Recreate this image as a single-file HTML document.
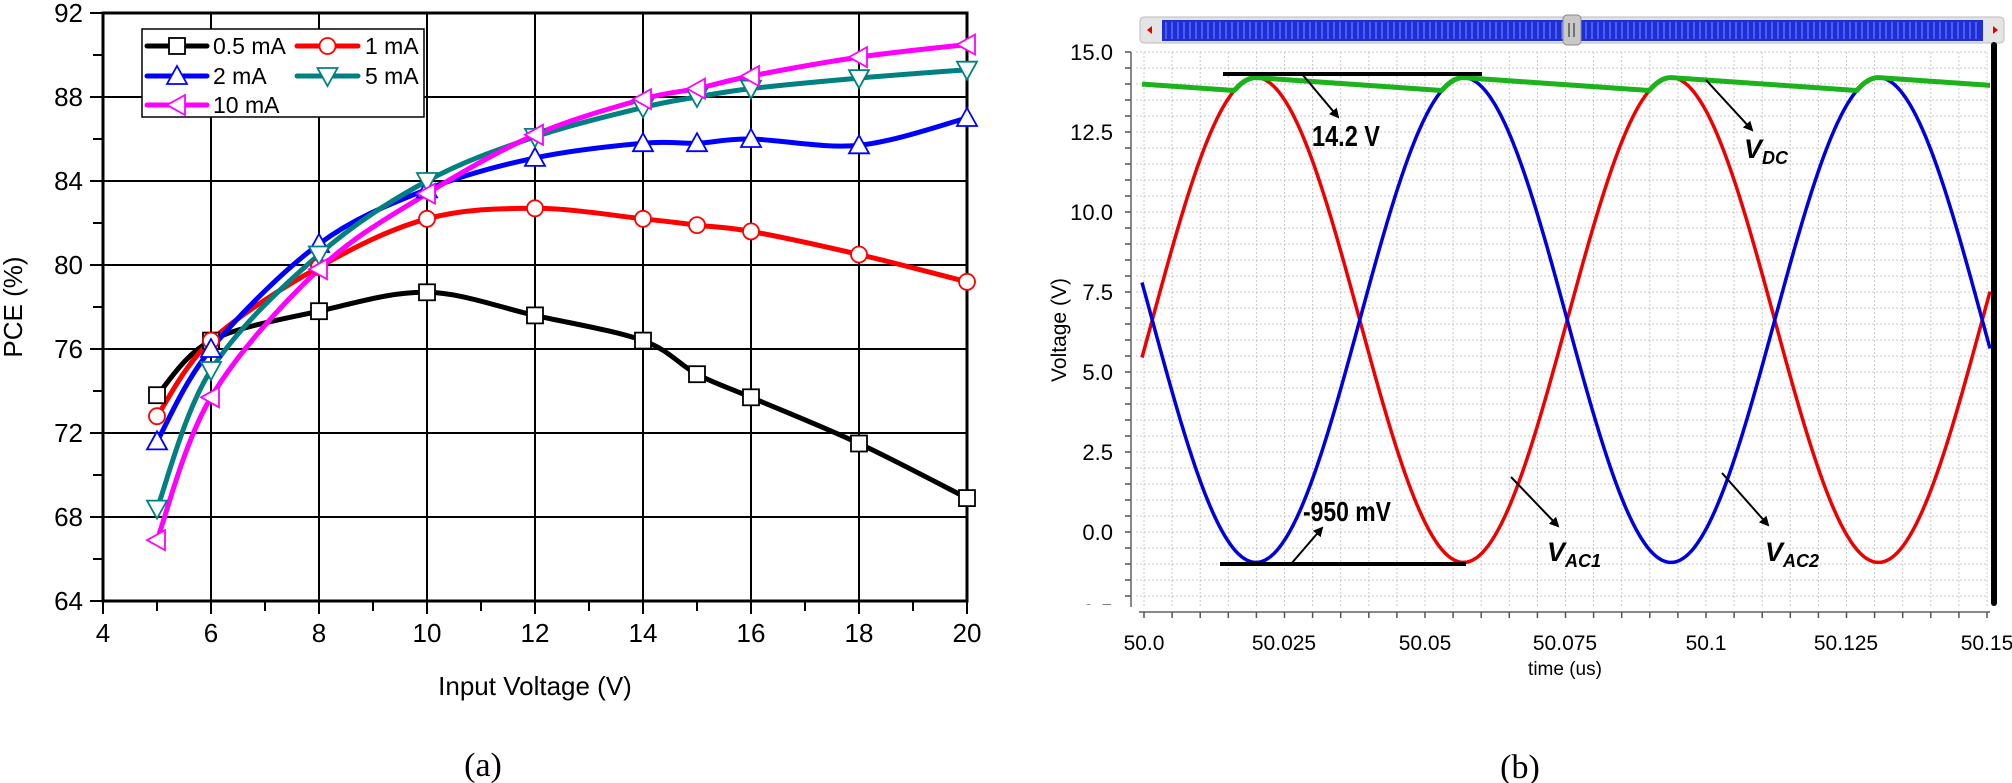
<!DOCTYPE html>
<html><head><meta charset="utf-8"><style>
html,body{margin:0;padding:0;background:#fff;}
svg{display:block;}
.t{font-family:"Liberation Sans",sans-serif;}
</style></head><body>
<svg id="s" width="2012" height="783" viewBox="0 0 2012 783" xmlns="http://www.w3.org/2000/svg">
<defs>
<marker id="ah" markerWidth="10" markerHeight="10" refX="8" refY="5" orient="auto" markerUnits="userSpaceOnUse"><path d="M0,0 L10,5 L0,10 z" fill="#000"/></marker>
</defs>
<rect width="2012" height="783" fill="#fff"/>
<!-- LEFT CHART -->
<g id="lgrid" stroke="#000" stroke-width="2"></g>
<rect x="103" y="13" width="864" height="588" fill="none" stroke="#000" stroke-width="3"/>
<g id="lseries"></g>
<g class="t" font-size="26" fill="#000" text-anchor="end">
<text x="83" y="22">92</text><text x="83" y="106">88</text><text x="83" y="190">84</text><text x="83" y="274">80</text>
<text x="83" y="358">76</text><text x="83" y="442">72</text><text x="83" y="526">68</text><text x="83" y="610">64</text>
</g>
<g class="t" font-size="26" fill="#000" text-anchor="middle">
<text x="103" y="642">4</text><text x="211" y="642">6</text><text x="319" y="642">8</text><text x="427" y="642">10</text>
<text x="535" y="642">12</text><text x="643" y="642">14</text><text x="751" y="642">16</text><text x="859" y="642">18</text><text x="967" y="642">20</text>
<text x="535" y="695">Input Voltage (V)</text>
<text transform="translate(22,307) rotate(-90)">PCE (%)</text>
</g>
<text x="483" y="776" font-family="Liberation Serif,serif" font-size="34" text-anchor="middle">(a)</text>
<!-- legend -->
<rect x="142" y="29" width="282" height="88" fill="#fff" stroke="#000" stroke-width="1.5"/>
<g id="legend"></g>
<g class="t" font-size="23" fill="#000">
<text x="213" y="54">0.5 mA</text><text x="365" y="54">1 mA</text>
<text x="213" y="84">2 mA</text><text x="365" y="84">5 mA</text>
<text x="213" y="113">10 mA</text>
</g>

<!-- RIGHT CHART -->
<rect x="1140" y="17" width="864" height="26" rx="4" fill="#e4e4e4" stroke="#bbb"/>
<rect x="1162" y="20" width="821" height="21" fill="#1f2fd8"/>
<g id="scrollpat" stroke="#7f88ff" stroke-width="1"></g>
<path d="M1147,30 l5,-4 v8z M1998,30 l-5,-4 v8z" fill="#d00"/>
<rect x="1563" y="15" width="18" height="30" rx="4" fill="#c8c8c8" stroke="#888"/>
<path d="M1569,23 v14 M1574,23 v14" stroke="#555" stroke-width="1.5"/>
<g id="rgrid" stroke="#c8c8c8" stroke-width="1" stroke-dasharray="2,2"></g>
<line x1="1131" y1="52" x2="1131" y2="607" stroke="#888" stroke-width="2"/>
<line x1="1139" y1="612" x2="1990" y2="612" stroke="#888" stroke-width="2"/>
<g id="rticks" stroke="#555" stroke-width="1.5"></g>
<g id="rseries" fill="none" stroke-width="3.5"></g>
<line x1="1994" y1="45" x2="1994" y2="603" stroke="#000" stroke-width="6" stroke-linecap="round"/>
<g class="t" font-size="22" fill="#000" text-anchor="end" id="rylab">
<text x="1113" y="60">15.0</text><text x="1113" y="140">12.5</text><text x="1113" y="220">10.0</text>
<text x="1113" y="300">7.5</text><text x="1113" y="380">5.0</text><text x="1113" y="460">2.5</text>
<text x="1113" y="540">0.0</text><text x="1113" y="620">-2.5</text>
</g>
<rect x="1060" y="605" width="70" height="20" fill="#fff"/>
<g class="t" font-size="21" fill="#000" text-anchor="middle">
<text x="1144" y="650">50.0</text><text x="1284" y="650">50.025</text><text x="1425" y="650">50.05</text>
<text x="1565" y="650">50.075</text><text x="1706" y="650">50.1</text><text x="1846" y="650">50.125</text>
<text x="1987" y="650">50.15</text>
<text x="1565" y="675" font-size="19">time (us)</text>
<text transform="translate(1066,330) rotate(-90)" font-size="21">Voltage (V)</text>
</g>
<text x="1520" y="778" font-family="Liberation Serif,serif" font-size="34" text-anchor="middle">(b)</text>
<!-- annotations -->
<g stroke="#000">
<line x1="1223" y1="74" x2="1482" y2="74" stroke-width="4"/>
<line x1="1302" y1="74" x2="1338" y2="117" stroke-width="2" marker-end="url(#ah)"/>
<line x1="1706" y1="80" x2="1752" y2="130" stroke-width="2" marker-end="url(#ah)"/>
<line x1="1220" y1="564" x2="1466" y2="564" stroke-width="4"/>
<line x1="1291" y1="564" x2="1322" y2="528" stroke-width="2" marker-end="url(#ah)"/>
<line x1="1511" y1="477" x2="1558" y2="526" stroke-width="2" marker-end="url(#ah)"/>
<line x1="1722" y1="473" x2="1768" y2="525" stroke-width="2" marker-end="url(#ah)"/>
</g>
<g class="t" font-weight="bold" fill="#000">
<text x="1312" y="146" font-size="29" textLength="68" lengthAdjust="spacingAndGlyphs">14.2 V</text>
<text x="1303" y="521" font-size="28" textLength="88" lengthAdjust="spacingAndGlyphs">-950 mV</text>
<text x="1744" y="158" font-style="italic" font-size="27">V<tspan font-size="18" dy="6">DC</tspan></text>
<text x="1547" y="561" font-style="italic" font-size="27">V<tspan font-size="18" dy="6">AC1</tspan></text>
<text x="1765" y="561" font-style="italic" font-size="27">V<tspan font-size="18" dy="6">AC2</tspan></text>
</g>
</svg>
<script>
var NS="http://www.w3.org/2000/svg";
function el(p,tag,a){var e=document.createElementNS(NS,tag);for(var k in a)e.setAttribute(k,a[k]);p.appendChild(e);return e;}
var g=document.getElementById('lgrid');
for(var v=6;v<20;v+=2){var x=103+(v-4)*54;el(g,'line',{x1:x,y1:13,x2:x,y2:601});}
for(var y=64+4;y<92;y+=4){var yy=601-(y-64)*21;el(g,'line',{x1:103,y1:yy,x2:967,y2:yy});}
for(var y=64;y<=92;y+=2){var yy=601-(y-64)*21;el(g,'line',{x1:y%4?93:90,y1:yy,x2:103,y2:yy});}
for(var v=4;v<=20;v++){var x=103+(v-4)*54;el(g,'line',{x1:x,y1:601,x2:x,y2:v%2?611:614});}
var xs=[5,6,8,10,12,14,15,16,18,20];
var S=[
 {c:'#000',m:'sq',d:[73.8,76.4,77.8,78.7,77.6,76.4,74.8,73.7,71.5,68.9]},
 {c:'#f00',m:'ci',d:[72.8,76.4,79.9,82.2,82.7,82.2,81.9,81.6,80.5,79.2]},
 {c:'#00f',m:'up',d:[71.6,76.0,81.0,83.6,85.1,85.8,85.8,86.0,85.7,87.0]},
 {c:'#008080',m:'dn',d:[68.4,75.0,80.5,84.0,86.1,87.5,88.0,88.4,88.9,89.3]},
 {c:'#f0f',m:'lt',d:[66.9,73.7,79.8,83.4,86.2,87.9,88.4,89.0,89.9,90.5]}];
function smooth(P){var d='M'+P[0][0]+','+P[0][1];for(var i=0;i<P.length-1;i++){var p0=P[i-1]||P[i],p1=P[i],p2=P[i+1],p3=P[i+2]||p2;
d+=' C'+(p1[0]+(p2[0]-p0[0])/6)+','+(p1[1]+(p2[1]-p0[1])/6)+' '+(p2[0]-(p3[0]-p1[0])/6)+','+(p2[1]-(p3[1]-p1[1])/6)+' '+p2[0]+','+p2[1];}return d;}
function mk(p,t,x,y,c){var r=8;
 if(t=='sq')el(p,'rect',{x:x-r,y:y-r,width:2*r,height:2*r,fill:'#fff',stroke:c,'stroke-width':1.8});
 else if(t=='ci')el(p,'circle',{cx:x,cy:y,r:r,fill:'#fff',stroke:c,'stroke-width':1.8});
 else if(t=='up')el(p,'path',{d:'M'+x+','+(y-10)+' L'+(x+10)+','+(y+8)+' L'+(x-10)+','+(y+8)+'z',fill:'#fff',stroke:c,'stroke-width':1.8});
 else if(t=='dn')el(p,'path',{d:'M'+x+','+(y+10)+' L'+(x+10)+','+(y-8)+' L'+(x-10)+','+(y-8)+'z',fill:'#fff',stroke:c,'stroke-width':1.8});
 else el(p,'path',{d:'M'+(x-10)+','+y+' L'+(x+8)+','+(y-10)+' L'+(x+8)+','+(y+10)+'z',fill:'#fff',stroke:c,'stroke-width':1.8});}
var ls=document.getElementById('lseries');
S.forEach(function(s){var P=xs.map(function(v,i){return [103+(v-4)*54,601-(s.d[i]-64)*21];});
 el(ls,'path',{d:smooth(P),fill:'none',stroke:s.c,'stroke-width':5});s.P=P;});
S.forEach(function(s){s.P.forEach(function(p){mk(ls,s.m,p[0],p[1],s.c);});});
var lg=document.getElementById('legend');
var pos=[[147,207,46],[297,358,46],[147,207,76],[297,358,76],[147,207,105]];
S.forEach(function(s,i){var q=pos[i];el(lg,'line',{x1:q[0],y1:q[2],x2:q[1],y2:q[2],stroke:s.c,'stroke-width':5,'stroke-linecap':'round'});mk(lg,s.m,(q[0]+q[1])/2,q[2],s.c);});
var sp=document.getElementById('scrollpat');
for(var x=1166;x<1980;x+=6){el(sp,'line',{x1:x,y1:22,x2:x,y2:39});}
var rg=document.getElementById('rgrid'),rt=document.getElementById('rticks');
for(var x=1144;x<=1988;x+=140.5/5){el(rg,'line',{x1:x,y1:52,x2:x,y2:606});el(rt,'line',{x1:x,y1:612,x2:x,y2:618});}
for(var y=52;y<=606;y+=16){el(rg,'line',{x1:1136,y1:y,x2:1988,y2:y});el(rt,'line',{x1:1125,y1:y,x2:1131,y2:y});}
function Y(v){return 532-v*32;}
var P=415,xp=1256,c=6.625,a=7.575;
var r='',b='',gr='';
var peaks=[1256-P/2,1256,1256+P/2,1256+P,1256+1.5*P];
for(var x=1142;x<=1990;x+=1){var th=2*Math.PI*(x-xp)/P;var rv=c+a*Math.cos(th),bv=c-a*Math.cos(th);
 r+=(x==1142?'M':'L')+x+','+Y(rv).toFixed(1);b+=(x==1142?'M':'L')+x+','+Y(bv).toFixed(1);
 var env=Math.max(rv,bv);
 var k=0;for(var i=0;i<peaks.length;i++)if(peaks[i]<=x)k=i;
 var dv=14.2-0.45*(x-peaks[k])/(P/2);
 var g2=Math.max(env,dv);
 gr+=(x==1142?'M':'L')+x+','+Y(Math.min(g2,14.2)).toFixed(1);}
var rs=document.getElementById('rseries');
el(rs,'path',{d:r,stroke:'#e00'});el(rs,'path',{d:b,stroke:'#00d'});el(rs,'path',{d:gr,stroke:'#1bb21b','stroke-width':5});
</script>
</body></html>
